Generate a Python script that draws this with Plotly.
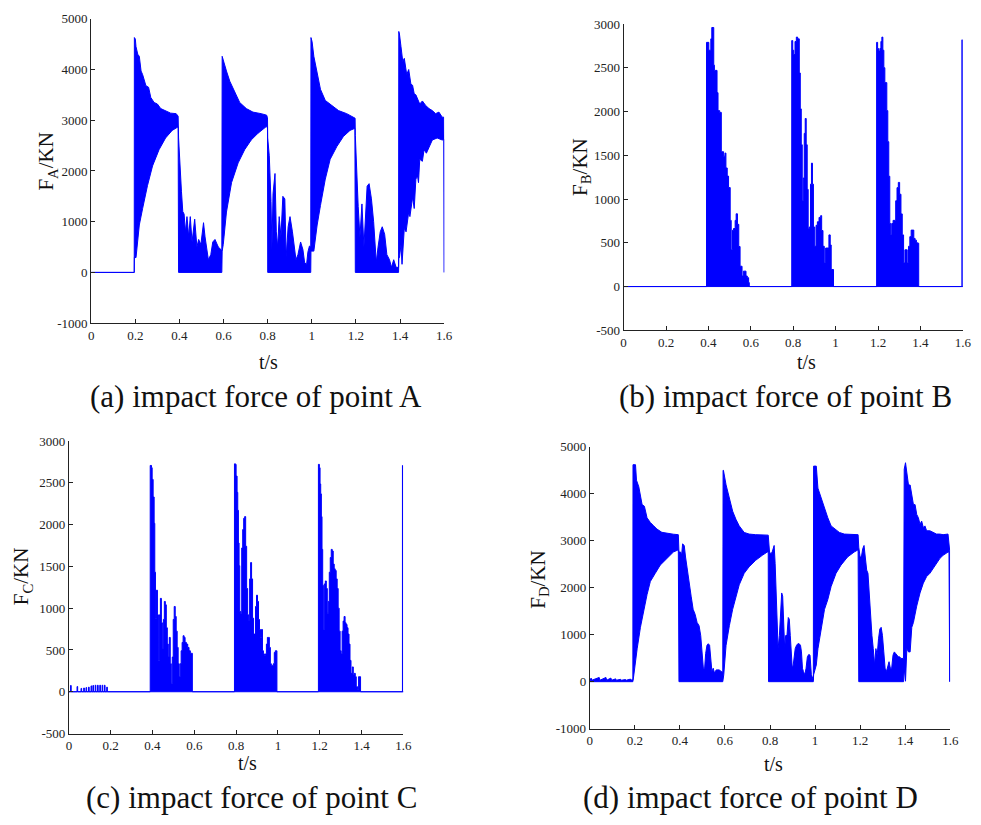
import plotly.graph_objects as go

# ---------------------------------------------------------------------------
# Impact force histories (kN) at points A-D.  Each signal is stored as an
# upper envelope and a lower envelope; the dense oscillation between them is
# drawn as a filled band.
# ---------------------------------------------------------------------------

# ---- point A ----
a_hi_t = [0, 0.1950, 0.1956, 0.200, 0.203, 0.211, 0.218, 0.226, 0.233, 0.248, 0.260, 0.270,
          0.285, 0.300, 0.315, 0.337, 0.360, 0.385, 0.394, 0.396,
          0.403, 0.409, 0.415, 0.421, 0.427, 0.434, 0.442, 0.449, 0.457, 0.469, 0.479, 0.487,
          0.497, 0.509, 0.516, 0.524, 0.531, 0.542, 0.551, 0.561, 0.569, 0.576, 0.588, 0.592,
          0.5935, 0.600, 0.606, 0.613, 0.628, 0.651, 0.673, 0.703, 0.733, 0.770, 0.795, 0.799,
          0.800, 0.807, 0.815, 0.819, 0.824, 0.833, 0.839, 0.845, 0.852, 0.860, 0.8685, 0.8775,
          0.8835, 0.8925, 0.901, 0.912, 0.919, 0.928, 0.937, 0.949, 0.9595, 0.967, 0.976, 0.982,
          0.989, 0.995,
          0.996, 1.001, 1.009, 1.024, 1.039, 1.061, 1.091, 1.121, 1.158, 1.191, 1.196,
          1.197, 1.203, 1.210, 1.218, 1.227, 1.236, 1.243, 1.2505, 1.2595, 1.270, 1.280, 1.288,
          1.292, 1.300, 1.310, 1.319, 1.330, 1.340, 1.352, 1.361, 1.371, 1.382, 1.391, 1.393,
          1.394, 1.397, 1.404, 1.412, 1.419, 1.430, 1.439, 1.449, 1.4565, 1.464, 1.4715, 1.489,
          1.501, 1.516, 1.531, 1.546, 1.561, 1.576, 1.591, 1.598, 1.599, 1.600]
a_hi = [0, 0, 4630, 4600, 4450, 4300, 4260, 3970, 3900, 3680, 3650, 3450,
        3350, 3320, 3230, 3180, 3140, 3130, 3080, 2650,
        2200, 1600, 1200, 1150, 800, 1100, 700, 1100, 600, 1050, 500, 650,
        550, 980, 700, 400, 250, 350, 600, 650, 550, 500, 450, 420,
        4260, 4150, 4050, 3970, 3770, 3550, 3350, 3230, 3160, 3130, 3100, 3050,
        2650, 2300, 1400, 450, 1550, 1950, 800, 500, 1100, 700, 1500, 1450,
        300, 900, 1100, 800, 600, 250, 350, 600, 450, 200, 150, 400,
        520, 500,
        4630, 4550, 4260, 3900, 3610, 3390, 3290, 3190, 3130, 3060, 3040,
        2700, 2000, 1300, 700, 1350, 500, 1150, 1700, 1750, 1450, 1000, 400,
        200, 500, 800, 900, 750, 350, 250, 100, 250, 100, 100, 100,
        4750, 4700, 4450, 4160, 4220, 3900, 4000, 3710, 3690, 3520, 3500, 3320,
        3380, 3290, 3230, 3190, 3130, 3160, 3060, 3060, 2620, 2620]
a_lo_t = [0, 0.1950, 0.1956, 0.203, 0.218, 0.233, 0.255, 0.278, 0.3075, 0.337, 0.367, 0.394,
          0.396, 0.592,
          0.5935, 0.5985, 0.613, 0.636, 0.666, 0.6955, 0.725, 0.755, 0.792, 0.799,
          0.800, 0.995,
          0.996, 1.009, 1.024, 1.039, 1.061, 1.083, 1.113, 1.143, 1.173, 1.195,
          1.197, 1.393,
          1.394, 1.397, 1.404, 1.4087, 1.419, 1.427, 1.439, 1.4445, 1.4565, 1.464, 1.4715,
          1.479, 1.4833, 1.489, 1.501, 1.5086, 1.5191, 1.531, 1.546, 1.568, 1.591, 1.598,
          1.600]
a_lo = [0, 0, 300, 290, 935, 1260, 1710, 2100, 2420, 2650, 2800, 2870,
        0, 0,
        420, 550, 1190, 1770, 2160, 2420, 2610, 2740, 2870, 2870,
        0, 0,
        420, 420, 935, 1320, 1840, 2230, 2480, 2680, 2800, 2840,
        0, 0,
        290, 290, 550, 160, 870, 800, 1190, 1100, 1480, 1260, 1840,
        1900, 1770, 2230, 2190, 2420, 2350, 2480, 2610, 2650, 2610, 2620,
        0]

# ---- point B ----
b_hi_t = [0, 0.3911, 0.4019, 0.4113, 0.4159, 0.4252, 0.4283, 0.4407, 0.4454, 0.4532, 0.4609,
          0.4718, 0.4780, 0.4826, 0.4888, 0.4950, 0.5028, 0.5075, 0.5137, 0.5183, 0.5261,
          0.5308, 0.5370, 0.5432, 0.5494, 0.5587, 0.5649, 0.5773, 0.5835, 0.5897, 0.5928,
          0.7930, 0.7977, 0.8023, 0.8085, 0.8147, 0.8209, 0.8287, 0.8334, 0.8380, 0.8427,
          0.8473, 0.8520, 0.8566, 0.8613, 0.8660, 0.8706, 0.8753, 0.8815, 0.8861, 0.8908,
          0.8954, 0.9016, 0.9078, 0.9140, 0.9218, 0.9296, 0.9342, 0.9404, 0.9466, 0.9528,
          0.9684, 0.9746, 0.9792, 0.9901,
          1.1934, 1.1981, 1.2027, 1.2089, 1.2136, 1.2182, 1.2229, 1.2275, 1.2322, 1.2415,
          1.2462, 1.2508, 1.2555, 1.2601, 1.2648, 1.2710, 1.2834, 1.2896, 1.2958, 1.3020,
          1.3082, 1.3144, 1.3206, 1.3269, 1.3377, 1.3439, 1.3501, 1.3563, 1.3688, 1.3750,
          1.3812, 1.3874, 1.3920,
          1.5955, 1.5962, 1.5970, 1.600]
b_hi = [0, 2790, 2700, 2830, 2960, 2530, 2470, 2215, 2010, 1990, 1540,
        1490, 1525, 1355, 1262, 1131, 756, 420, 644, 663, 756,
        831, 711, 457, 232, 120, 176, 120, 101, 45, 0,
        2810, 2700, 2650, 2800, 2850, 2830, 2440, 2030, 1620, 980,
        1240, 1750, 1920, 1620, 1110, 660, 680, 1170, 1410, 1170,
        680, 460, 700, 740, 790, 810, 640, 460, 270, 440,
        590, 475, 195, 0,
        2790, 2720, 2690, 2720, 2800, 2850, 2700, 2500, 2330, 2010,
        1655, 1260, 720, 590, 720, 756, 980, 1130, 1190, 1055,
        830, 590, 270, 420, 270, 460, 570, 645, 550, 530,
        500, 495, 0,
        0, 2820, 0, 0]
b_lo_t = [0, 1.600]
b_lo = [0, 0]

# ---- point C ----
c_hi_t = [0, 0.008, 0.011, 0.039, 0.042, 0.058, 0.061, 0.071, 0.074, 0.082, 0.085, 0.094,
          0.097, 0.106, 0.109, 0.115, 0.118, 0.126, 0.129, 0.137, 0.140, 0.148, 0.151, 0.159,
          0.162, 0.170, 0.173, 0.181, 0.184,
          0.3890, 0.3953, 0.3984, 0.4031, 0.4079, 0.4110, 0.4142, 0.4189, 0.4236, 0.4283,
          0.4331, 0.4378, 0.4425, 0.4472, 0.4520, 0.4567, 0.4614, 0.4661, 0.4709, 0.4756,
          0.4803, 0.4850, 0.4898, 0.4945, 0.4992, 0.5039, 0.5087, 0.5134, 0.5181, 0.5228,
          0.5276, 0.5323, 0.5370, 0.5417, 0.5465, 0.5512, 0.5559, 0.5622, 0.5685, 0.5748,
          0.5811, 0.5874, 0.5906,
          0.7921, 0.7969, 0.8000, 0.8047, 0.8079, 0.8110, 0.8142, 0.8173, 0.8220, 0.8268,
          0.8315, 0.8362, 0.8409, 0.8457, 0.8504, 0.8551, 0.8598, 0.8646, 0.8693, 0.8740,
          0.8787, 0.8835, 0.8882, 0.8929, 0.8976, 0.9024, 0.9071, 0.9118, 0.9165, 0.9213,
          0.9260, 0.9307, 0.9354, 0.9402, 0.9449, 0.9496, 0.9543, 0.9591, 0.9638, 0.9685,
          0.9732, 0.9780, 0.9827, 0.9874, 0.9921, 0.9953,
          1.1937, 1.1984, 1.2016, 1.2047, 1.2079, 1.2110, 1.2142, 1.2173, 1.2220, 1.2268,
          1.2315, 1.2362, 1.2409, 1.2457, 1.2504, 1.2551, 1.2598, 1.2646, 1.2693, 1.2740,
          1.2787, 1.2835, 1.2882, 1.2929, 1.2976, 1.3024, 1.3071, 1.3118, 1.3165, 1.3213,
          1.3260, 1.3307, 1.3354, 1.3402, 1.3449, 1.3496, 1.3559, 1.3606, 1.3654, 1.3701,
          1.3748, 1.3811, 1.3858, 1.3921, 1.3953,
          1.5950, 1.5957, 1.5965, 1.600]
c_hi = [0, 75, 0, 62, 0, 40, 0, 45, 0, 50, 0, 55,
        0, 70, 0, 75, 0, 78, 0, 78, 0, 78, 0, 78,
        0, 78, 0, 55, 0,
        2707, 2680, 2540, 2330, 2015, 1430, 880, 1215, 920, 375,
        920, 1117, 825, 510, 865, 1080, 1040, 765, 570, 415,
        650, 335, 100, 415, 865, 1020, 900, 725, 530, 335,
        180, 335, 490, 590, 670, 650, 590, 570, 530, 490,
        460, 460, 0,
        2726, 2720, 2580, 2385, 2170, 1780, 1508, 960, 940, 1720,
        1940, 2075, 2095, 1740, 1235, 920, 845, 1350, 1545, 1350,
        880, 690, 690, 1020, 1155, 1080, 865, 745, 650, 745,
        490, 453, 433, 453, 570, 650, 650, 530, 335, 315,
        315, 335, 470, 490, 490, 0,
        2720, 2680, 2485, 2367, 2095, 1703, 1273, 745, 1290, 1325,
        1235, 940, 1080, 1430, 1605, 1703, 1683, 1527, 1470, 1450,
        1350, 1235, 1000, 725, 490, 453, 725, 845, 900, 825,
        805, 765, 690, 570, 375, 220, 297, 200, 220, 180,
        60, 30, 180, 180, 0,
        0, 2707, 0, 0]
c_lo_t = [0, 1.600]
c_lo = [0, 0]

# ---- point D ----
d_hi_t = [0, 0.006, 0.009, 0.042, 0.045, 0.072, 0.075, 0.094, 0.097, 0.115, 0.118, 0.137,
          0.140, 0.159, 0.162, 0.181, 0.184, 0.1914,
          0.1920, 0.2031, 0.2075, 0.2177, 0.2324, 0.2426, 0.2543, 0.2689, 0.2835, 0.2981,
          0.3200, 0.3420, 0.3712, 0.3931,
          0.3960, 0.4033, 0.4077, 0.4121, 0.4194, 0.4252, 0.4326, 0.4413, 0.4501, 0.4589,
          0.4676, 0.4764, 0.4852, 0.4925, 0.4983, 0.5042, 0.5100, 0.5144, 0.5202, 0.5261,
          0.5319, 0.5363, 0.5422, 0.5480, 0.5538, 0.5612, 0.5758, 0.5831, 0.5904,
          0.5918, 0.5933, 0.6050, 0.6196, 0.6342, 0.6488, 0.6634, 0.6854, 0.7073, 0.7365,
          0.7877, 0.7921,
          0.7979, 0.8037, 0.8096, 0.8140, 0.8184, 0.8228, 0.8271, 0.8315, 0.8359, 0.8417,
          0.8476, 0.8519, 0.8563, 0.8607, 0.8651, 0.8695, 0.8753, 0.8812, 0.8856, 0.8900,
          0.8943, 0.8987, 0.9031, 0.9075, 0.9119, 0.9177, 0.9236, 0.9294, 0.9353, 0.9396,
          0.9440, 0.9484, 0.9543, 0.9601, 0.9659, 0.9718, 0.9776, 0.9835, 0.9893, 0.9923,
          0.9935, 1.0054, 1.0127, 1.0273, 1.0419, 1.0565, 1.0712, 1.0858, 1.1077, 1.1296,
          1.1588, 1.1910,
          1.1939, 1.1998, 1.2056, 1.2115, 1.2173, 1.2231, 1.2290, 1.2348, 1.2407, 1.2465,
          1.2524, 1.2582, 1.2641, 1.2699, 1.2757, 1.2816, 1.2874, 1.2933, 1.2991, 1.3050,
          1.3108, 1.3167, 1.3225, 1.3283, 1.3342, 1.3400, 1.3459, 1.3517, 1.3576, 1.3634,
          1.3693, 1.3751, 1.3810, 1.3927,
          1.3956, 1.4014, 1.4073, 1.4146, 1.4219, 1.4292, 1.4365, 1.4438, 1.4511, 1.4584,
          1.4657, 1.4730, 1.4804, 1.4877, 1.4950, 1.5096, 1.5242, 1.5388, 1.5534, 1.5680,
          1.5900, 1.5943, 1.5972]
d_hi = [0, 77, 30, 90, 30, 90, 30, 77, 30, 60, 30, 50,
        30, 45, 30, 55, 35, 40,
        4620, 4620, 4290, 4150, 3770, 3735, 3490, 3390, 3320, 3250,
        3180, 3160, 3140, 3130,
        2760, 2760, 2690, 2934, 2900, 2655, 2376, 2098, 1819, 1540,
        1436, 1261, 1192, 983, 565, 286, 286, 600, 774, 808,
        774, 425, 216, 286, 181, 251, 251, 216, 200,
        4500, 4500, 4190, 3875, 3630, 3457, 3317, 3178, 3143, 3130,
        3130, 3120,
        2760, 2725, 2760, 2864, 2900, 2516, 1889, 1470, 704, 983,
        1540, 1889, 1819, 1261, 704, 983, 983, 1366, 1331, 983,
        425, 286, 355, 565, 704, 774, 808, 808, 774, 634,
        286, 216, 146, 286, 530, 578, 565, 146, 40, 40,
        4590, 4590, 4120, 3910, 3665, 3490, 3317, 3268, 3178, 3143,
        3130, 3130,
        2864, 2655, 2655, 2830, 2900, 2655, 2376, 2307, 1819, 1261,
        983, 704, 355, 704, 565, 913, 1122, 1157, 983, 634,
        286, 216, 355, 425, 286, 286, 565, 634, 600, 565,
        530, 530, 495, 495,
        4523, 4662, 4467, 4188, 4188, 3945, 3770, 3770, 3561, 3491,
        3352, 3420, 3282, 3317, 3213, 3213, 3178, 3143, 3143, 3130,
        3143, 2800, 2800]
d_lo_t = [0, 0.1914, 0.1958, 0.2031, 0.2104, 0.2250, 0.2397, 0.2543, 0.2689, 0.2908, 0.3127,
          0.3420, 0.3712, 0.3931, 0.3960, 0.5904,
          0.5948, 0.6050, 0.6196, 0.6342, 0.6488, 0.6634, 0.6854, 0.7073, 0.7365, 0.7658,
          0.7877, 0.7921, 0.7935, 0.9923,
          0.9935, 1.0054, 1.0127, 1.0273, 1.0419, 1.0565, 1.0712, 1.0931, 1.1150, 1.1442,
          1.1735, 1.1910, 1.1939, 1.3927,
          1.3956, 1.4014, 1.4073, 1.4146, 1.4219, 1.4292, 1.4365, 1.4511, 1.4657, 1.4804,
          1.4950, 1.5096, 1.5242, 1.5388, 1.5534, 1.5680, 1.5900, 1.5943, 1.5975]
d_lo = [0, 0, 146, 355, 700, 1157, 1540, 1854, 2132, 2307, 2481,
        2620, 2760, 2808, 0, 0,
        146, 774, 1192, 1540, 1819, 2063, 2307, 2446, 2585, 2690,
        2760, 2760, 0, 0,
        146, 355, 700, 1157, 1540, 1749, 2028, 2307, 2481, 2655,
        2760, 2808, 0, 0,
        286, 10, 704, 634, 634, 1157, 1261, 1610, 1889, 2098,
        2237, 2307, 2411, 2516, 2620, 2690, 2760, 2760, 0]

# ---- axis / label definitions ----
x_ticks = [0, 0.2, 0.4, 0.6, 0.8, 1.0, 1.2, 1.4, 1.6]
x_tick_text = ["0", "0.2", "0.4", "0.6", "0.8", "1", "1.2", "1.4", "1.6"]
y_ticks_big = [-1000, 0, 1000, 2000, 3000, 4000, 5000]
y_ticks_big_text = ["-1000", "0", "1000", "2000", "3000", "4000", "5000"]
y_ticks_small = [-500, 0, 500, 1000, 1500, 2000, 2500, 3000]
y_ticks_small_text = ["-500", "0", "500", "1000", "1500", "2000", "2500", "3000"]

captions = ["(a) impact force of point A", "(b) impact force of point B",
            "(c) impact force of point C", "(d) impact force of point D"]
y_titles = ["F<sub>A</sub>/KN", "F<sub>B</sub>/KN", "F<sub>C</sub>/KN", "F<sub>D</sub>/KN"]

W, H = 981, 825
SERIF = "Liberation Serif, Times New Roman, serif"
BLUE = "rgb(0,0,255)"

# panel geometry in pixels: (x0, x1, y_top, y_bottom)
panels = [
    dict(box=(89.3, 446.7, 12.0, 322.0), data=(a_hi_t, a_hi, a_lo_t, a_lo), shape="linear",
         yr=(-1000, 5000), yt=(y_ticks_big, y_ticks_big_text),
         ytitle=(45, 157), xtitle=(269, 362), cap=(256.5, 397)),
    dict(box=(628.3, 971.7, 17.3, 329.3), data=(b_hi_t, b_hi, b_lo_t, b_lo), shape="hv",
         yr=(-500, 3000), yt=(y_ticks_small, y_ticks_small_text),
         ytitle=(585, 163), xtitle=(813, 362), cap=(792, 397)),
    dict(box=(66.7, 405.3, 442.0, 740.0), data=(c_hi_t, c_hi, c_lo_t, c_lo), shape="hv",
         yr=(-500, 3000), yt=(y_ticks_small, y_ticks_small_text),
         ytitle=(20, 580), xtitle=(248, 770), cap=(252, 805)),
    dict(box=(594.0, 959.0, 448.0, 735.0), data=(d_hi_t, d_hi, d_lo_t, d_lo), shape="linear",
         yr=(-1000, 5000), yt=(y_ticks_big, y_ticks_big_text),
         ytitle=(543, 583), xtitle=(780, 771), cap=(757, 805)),
]

fig = go.Figure()
annotations = []
for i, p in enumerate(panels):
    n = "" if i == 0 else str(i + 1)
    th, yh, tl, yl = p["data"]
    xs = list(th) + list(tl)[::-1]
    ys = list(yh) + list(yl)[::-1]
    fig.add_trace(go.Scatter(
        x=xs, y=ys, mode="lines", fill="toself", fillcolor=BLUE,
        line=dict(color=BLUE, width=1, shape=p["shape"]),
        xaxis="x" + n, yaxis="y" + n, hoverinfo="skip", showlegend=False))

    x0, x1, yt_, yb = p["box"]
    axis_common = dict(showline=True, linecolor="#222", linewidth=1, ticks="inside",
                       ticklen=4, tickwidth=1, tickcolor="#222", showgrid=False,
                       zeroline=False, mirror=False,
                       tickfont=dict(family=SERIF, size=13, color="#222"))
    fig.layout["xaxis" + n] = dict(
        domain=[x0 / W, x1 / W], anchor="y" + n, range=[0, 1.6],
        tickmode="array", tickvals=x_ticks, ticktext=x_tick_text, **axis_common)
    fig.layout["yaxis" + n] = dict(
        domain=[1 - yb / H, 1 - yt_ / H], anchor="x" + n, range=list(p["yr"]),
        tickmode="array", tickvals=p["yt"][0], ticktext=p["yt"][1], **axis_common)

    annotations.append(dict(text=y_titles[i], x=p["ytitle"][0] / W, y=1 - p["ytitle"][1] / H,
                            xref="paper", yref="paper", showarrow=False, textangle=-90,
                            xanchor="center", yanchor="middle",
                            font=dict(family=SERIF, size=21, color="#111")))
    annotations.append(dict(text="t/s", x=p["xtitle"][0] / W, y=1 - p["xtitle"][1] / H,
                            xref="paper", yref="paper", showarrow=False,
                            xanchor="center", yanchor="middle",
                            font=dict(family=SERIF, size=20, color="#111")))
    annotations.append(dict(text=captions[i], x=p["cap"][0] / W, y=1 - p["cap"][1] / H,
                            xref="paper", yref="paper", showarrow=False,
                            xanchor="center", yanchor="middle",
                            font=dict(family=SERIF, size=31, color="#111")))

fig.update_layout(width=W, height=H, margin=dict(l=0, r=0, t=0, b=0),
                  paper_bgcolor="white", plot_bgcolor="white",
                  showlegend=False, annotations=annotations)

fig.write_html("out.html")
